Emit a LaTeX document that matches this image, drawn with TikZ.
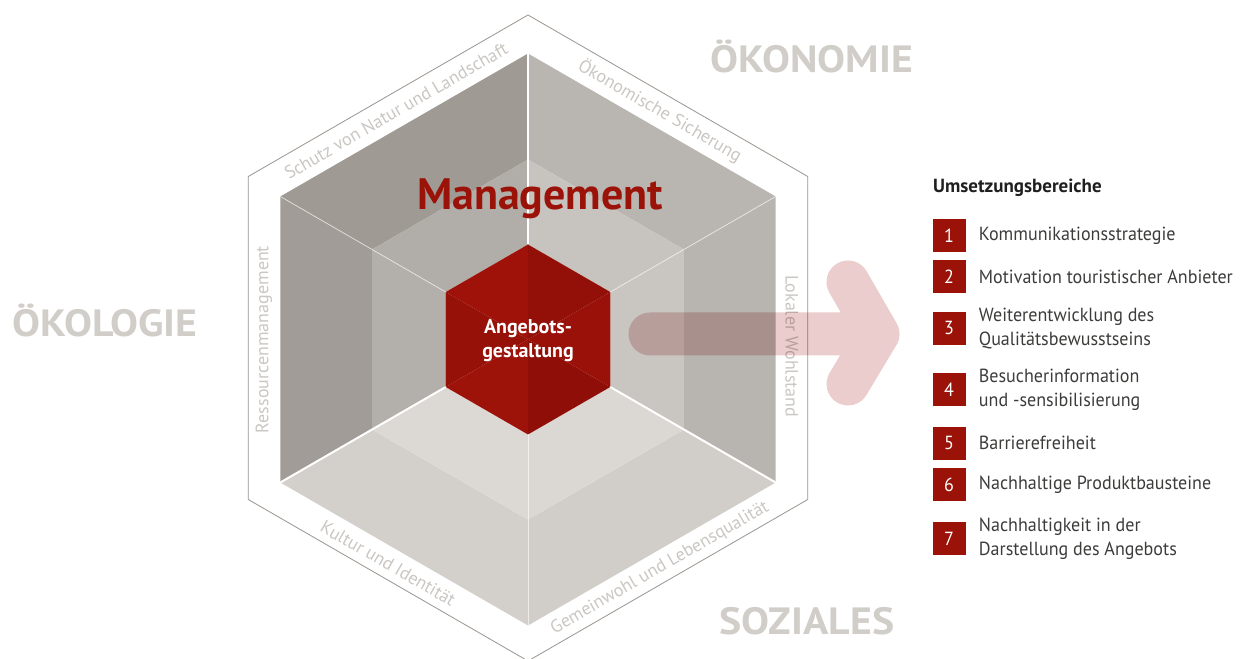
\documentclass[tikz,border=0pt]{standalone}
\usepackage{fontspec}
\setmainfont{PT Sans}
\newfontfamily\pillarfont{PT Sans}[FakeStretch=1.1]
\newfontfamily\listfont{PT Sans}[FakeStretch=0.95]
\usetikzlibrary{positioning}

\definecolor{outer1}{HTML}{A09A95}
\definecolor{outer2}{HTML}{A19C97}
\definecolor{outer3}{HTML}{D3D0CC}
\definecolor{outer4}{HTML}{D1CEC9}
\definecolor{outer5}{HTML}{B8B4AF}
\definecolor{outer6}{HTML}{B9B5B0}
\definecolor{mid1}{HTML}{B1ADA8}
\definecolor{mid2}{HTML}{B3AFAA}
\definecolor{mid3}{HTML}{DCD9D5}
\definecolor{mid4}{HTML}{DBD8D4}
\definecolor{mid5}{HTML}{C9C5C1}
\definecolor{mid6}{HTML}{C7C3BF}
\definecolor{core1}{HTML}{9F1209}
\definecolor{core2}{HTML}{961108}
\definecolor{core3}{HTML}{9D1209}
\definecolor{core4}{HTML}{8F0F08}
\definecolor{core5}{HTML}{991108}
\definecolor{core6}{HTML}{931008}
\definecolor{umsred}{HTML}{9B1208}
\definecolor{pillargray}{HTML}{D1CDC8}
\definecolor{sidegray}{HTML}{CAC6C2}
\definecolor{linegray}{HTML}{9A948F}
\definecolor{arrowpink}{HTML}{EACDCC}
\definecolor{itemgray}{HTML}{3C3C3B}

\begin{document}
\begin{tikzpicture}[x=1pt, y=1pt,
		  % Define the style of the three big pillar labels
		  pillar/.style={anchor=base, text=pillargray, font=\pillarfont\bfseries\fontsize{38}{38}\selectfont},
		  % Define the style of the labels along the hexagon border
		  sidelabel/.style={text=sidegray, font=\fontsize{18}{18}\selectfont},
		  % Define the style of the separating lines
		  wallline/.style={white, line width=2pt},
		  edgeline/.style={white, opacity=0.6, line width=0.8pt},
		  % Define the style of the big arrow
		  bigarrow/.style={draw=arrowpink, line width=43pt, line cap=round, line join=round, blend mode=multiply},
		  % Define the style of the numbered boxes
		  numbox/.style={fill=umsred, text=white, minimum size=33pt, inner sep=0pt, font=\listfont\fontsize{19}{19}\selectfont},
		  % Define the style of the list entries
		  itemlabel/.style={inner sep=0pt, align=left, text=itemgray, font=\listfont\fontsize{19}{24.5}\selectfont}
		  ]
		  \useasboundingbox (0,0) rectangle (1243,659);

		  % Outline of the hexagon
		  \begin{scope}[shift={(528,321)}]
		  \draw[linegray, line width=0.8pt] (90:323)
		    \foreach \a in {150, 210, 270, 330, 390} { -- (\a:323) } -- cycle;
		  \end{scope}

		  \begin{scope}[shift={(528,319.5)}]
		  % Outer ring, middle ring and core
		  \foreach \a [count=\i, evaluate=\a as \b using {\a + 60}] in {90, 150, 210, 270, 330, 30} {
		    \fill[outer\i] (\a:286) -- (\b:286) -- (\b:180) -- (\a:180) -- cycle;
		    \fill[mid\i] (\a:180) -- (\b:180) -- (\b:95) -- (\a:95) -- cycle;
		    \fill[core\i] (\a:95) -- (\b:95) -- (0,0) -- cycle;
		  }

		  % Separating lines
		  \foreach \a in {90, 210, 330} {
		    \draw[wallline] (\a:95) -- (\a:286);
		  }
		  \foreach \a in {30, 150, 270} {
		    \draw[edgeline] (\a:95) -- (\a:286);
		  }

		  % Labels along the border
		  \foreach \a/\r/\txt [count=\i] in {120/30/Schutz von Natur und Landschaft, 60/-30/Ökonomische Sicherung,
		      180/90/Ressourcenmanagement, 358.5/-90/Lokaler Wohlstand,
		      238/-30/Kultur und Identität, 300/30/Gemeinwohl und Lebensqualität} {
		    \node[sidelabel, rotate=\r] (side\i) at (\a:264) {\txt};
		  }

		  % Core label
		  \node[text=white, align=center, font=\bfseries\fontsize{20}{24}\selectfont] (angebot) at (0,-1) {Angebots-\\gestaltung};
		  \end{scope}

		  \node[anchor=base, text=umsred, font=\bfseries\fontsize{44}{44}\selectfont] (management) at (540,449) {Management};

		  % Pillar labels
		  \node[pillar] (oekonomie) at (812,586) {ÖKONOMIE};
		  \node[pillar] (oekologie) at (105,322) {ÖKOLOGIE};
		  \node[pillar] (soziales) at (807,24) {SOZIALES};

		  % Arrow towards the list
		  \coordinate (arrowtail) at (650,325);
		  \coordinate (arrowtip) at (878,325);
		  \coordinate (arrowup) at (848,377);
		  \coordinate (arrowdown) at (848,275);
		  \draw[bigarrow] (arrowtail) -- (arrowtip) (arrowup) -- (arrowtip) -- (arrowdown);

		  % List of fields
		  \node[anchor=base west, inner sep=0pt, text=black!88, font=\bfseries\fontsize{19}{19}\selectfont] (title) at (933,466) {Umsetzungsbereiche};
		  \foreach \i/\y/\txt in {1/423/Kommunikationsstrategie, 2/382.3/Motivation touristischer Anbieter,
		      3/330.7/{Weiterentwicklung des\\Qualitätsbewusstseins}, 4/269/{Besucherinformation\\und -sensibilisierung},
		      5/215.7/Barrierefreiheit, 6/174/Nachhaltige Produktbausteine,
		      7/120/{Nachhaltigkeit in der\\Darstellung des Angebots}} {
		    \node[numbox] (num\i) at (949,\y) {\i};
		    \node[itemlabel, right=13pt of num\i] (item\i) {\txt};
		  }
		\end{tikzpicture}
\end{document}
